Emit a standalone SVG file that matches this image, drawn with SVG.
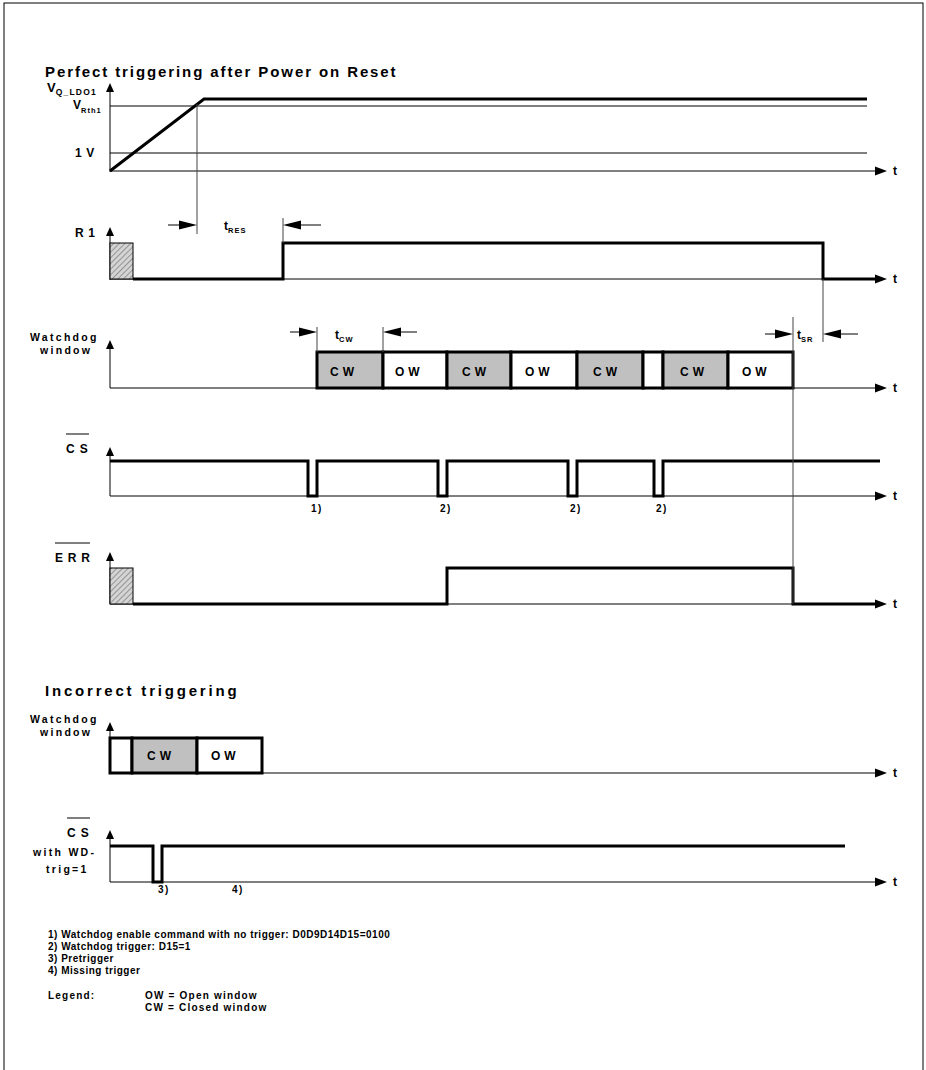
<svg xmlns="http://www.w3.org/2000/svg" width="926" height="1070" viewBox="0 0 926 1070">
<style>
text{font-family:"Liberation Sans",Arial,sans-serif;font-weight:bold;fill:#000}
.title{font-size:15px;letter-spacing:1.9px}
.lbl{font-size:12px;letter-spacing:4.5px}
.wd{font-size:10.5px;letter-spacing:2.3px}
.box{font-size:12px;letter-spacing:4px}
.note{font-size:10px;letter-spacing:0.5px}
.t{font-size:12px}
.sub{font-size:7.5px;letter-spacing:1px}
.num{font-size:10px;letter-spacing:1.5px}
.thin{stroke:#000;stroke-width:1;fill:none}
.thick{stroke:#000;stroke-width:3;fill:none;stroke-linejoin:miter}
.guide{stroke:#444;stroke-width:1;fill:none}
.wbox{stroke:#000;stroke-width:3;fill:#fff}
.gbox{stroke:#000;stroke-width:3;fill:#c0c0c0}
.hatch{stroke:#000;stroke-width:1;fill:url(#hp)}
.head{fill:#000}
</style>
<defs>
<pattern id="hp" patternUnits="userSpaceOnUse" width="4" height="4" patternTransform="rotate(45)">
<rect width="4" height="4" fill="#d4d4d4"/>
<line x1="0" y1="0" x2="0" y2="4" stroke="#555" stroke-width="1"/>
</pattern>
</defs>
<rect x="4" y="3" width="919" height="1080" fill="#fff" stroke="#000" stroke-width="1"/>

<text class="title" x="45" y="77">Perfect triggering after Power on Reset</text>

<g id="vq">
<text x="47" y="92" style="font-size:13px">V<tspan style="font-size:8.5px;letter-spacing:1.2px" dy="3">Q_LDO1</tspan></text>
<text x="73" y="109" style="font-size:12px">V<tspan class="sub" dy="4">Rth1</tspan></text>
<text class="lbl" x="75" y="157">1V</text>
<line class="thin" x1="110" y1="172" x2="110" y2="91"/>
<polygon class="head" points="110,83 106,92 114,92"/>
<line class="thin" x1="110" y1="106" x2="867" y2="106"/>
<line class="thin" x1="110" y1="153" x2="867" y2="153"/>
<line class="thin" x1="110" y1="171" x2="876" y2="171"/>
<polygon class="head" points="887,171 875,166.5 875,175.5"/>
<text class="t" x="893" y="175">t</text>
<path class="thick" d="M110,171 L204,99 H867"/>
</g>

<g id="r1">
<text class="lbl" x="75" y="237">R1</text>
<line class="thin" x1="110" y1="280" x2="110" y2="235"/>
<polygon class="head" points="110,227 106,236 114,236"/>
<line class="thin" x1="110" y1="279" x2="876" y2="279"/>
<rect class="hatch" x="110" y="243" width="23" height="36"/>
<path class="thick" d="M133,279 H283 V243 H823 V279 H876"/>
<polygon class="head" points="887,279 875,274.5 875,283.5"/>
<text class="t" x="893" y="283">t</text>
</g>

<g id="watchdog">
<text class="wd" x="30" y="341">Watchdog</text>
<text class="wd" x="40" y="354">window</text>
<line class="thin" x1="110" y1="388" x2="110" y2="348"/>
<polygon class="head" points="110,340 106,349 114,349"/>
<line class="thin" x1="110" y1="388" x2="876" y2="388"/>
<polygon class="head" points="887,388 875,383.5 875,392.5"/>
<text class="t" x="893" y="392">t</text>
<rect class="gbox" x="317" y="352" width="66" height="36"/>
<rect class="wbox" x="383" y="352" width="64" height="36"/>
<rect class="gbox" x="447" y="352" width="64" height="36"/>
<rect class="wbox" x="511" y="352" width="66" height="36"/>
<rect class="gbox" x="577" y="352" width="66" height="36"/>
<rect class="wbox" x="643" y="352" width="20" height="36"/>
<rect class="gbox" x="663" y="352" width="65" height="36"/>
<rect class="wbox" x="728" y="352" width="65" height="36"/>
<text class="box" x="330" y="376">CW</text>
<text class="box" x="395" y="376">OW</text>
<text class="box" x="462" y="376">CW</text>
<text class="box" x="525" y="376">OW</text>
<text class="box" x="593" y="376">CW</text>
<text class="box" x="680" y="376">CW</text>
<text class="box" x="742" y="376">OW</text>
</g>

<g id="cs">
<line class="thin" x1="66" y1="434" x2="89" y2="434"/>
<text class="lbl" x="66" y="453" style="letter-spacing:5px">CS</text>
<line class="thin" x1="110" y1="496" x2="110" y2="455"/>
<polygon class="head" points="110,447 106,456 114,456"/>
<line class="thin" x1="110" y1="496" x2="876" y2="496"/>
<polygon class="head" points="887,496 875,491.5 875,500.5"/>
<text class="t" x="893" y="500">t</text>
<path class="thick" d="M110,461 H308 V496 H317 V461 H438 V496 H447 V461 H568 V496 H577 V461 H654 V496 H663 V461 H880"/>
<text class="num" x="311" y="512">1)</text>
<text class="num" x="440" y="512">2)</text>
<text class="num" x="570" y="512">2)</text>
<text class="num" x="656" y="512">2)</text>
</g>

<g id="err">
<line class="thin" x1="55" y1="543" x2="90" y2="543"/>
<text class="lbl" x="55" y="562" style="letter-spacing:4.8px">ERR</text>
<line class="thin" x1="110" y1="604" x2="110" y2="560"/>
<polygon class="head" points="110,552 106,561 114,561"/>
<line class="thin" x1="110" y1="604" x2="876" y2="604"/>
<rect class="hatch" x="110" y="568" width="23" height="36"/>
<path class="thick" d="M133,604 H447 V568 H793 V604 H876"/>
<polygon class="head" points="887,604 875,599.5 875,608.5"/>
<text class="t" x="893" y="608">t</text>
</g>

<text class="title" x="45" y="696" style="letter-spacing:2.8px">Incorrect triggering</text>

<g id="watchdog2">
<text class="wd" x="30" y="723">Watchdog</text>
<text class="wd" x="40" y="736">window</text>
<line class="thin" x1="110" y1="773" x2="110" y2="730"/>
<polygon class="head" points="110,722 106,731 114,731"/>
<line class="thin" x1="110" y1="773" x2="876" y2="773"/>
<polygon class="head" points="887,773 875,768.5 875,777.5"/>
<text class="t" x="893" y="777">t</text>
<rect class="wbox" x="110" y="738" width="22" height="35"/>
<rect class="gbox" x="132" y="738" width="65" height="35"/>
<rect class="wbox" x="197" y="738" width="65" height="35"/>
<text class="box" x="147" y="760">CW</text>
<text class="box" x="211" y="760">OW</text>
</g>

<g id="cs2">
<line class="thin" x1="67" y1="818" x2="90" y2="818"/>
<text class="lbl" x="67" y="837" style="letter-spacing:5px">CS</text>
<text class="wd" x="33" y="856">with WD-</text>
<text class="wd" x="46" y="873">trig=1</text>
<line class="thin" x1="110" y1="882" x2="110" y2="838"/>
<polygon class="head" points="110,830 106,839 114,839"/>
<line class="thin" x1="110" y1="882" x2="876" y2="882"/>
<polygon class="head" points="887,882 875,877.5 875,886.5"/>
<text class="t" x="893" y="886">t</text>
<path class="thick" d="M110,846 H153 V882 H162 V846 H845"/>
<text class="num" x="158" y="893">3)</text>
<text class="num" x="232" y="893">4)</text>
</g>

<g id="connectors">
<line class="guide" x1="197" y1="104" x2="197" y2="234"/>
<line class="guide" x1="283" y1="218" x2="283" y2="243"/>
<line class="guide" x1="317" y1="327" x2="317" y2="352"/>
<line class="guide" x1="383" y1="327" x2="383" y2="352"/>
<line class="guide" x1="793" y1="317" x2="793" y2="604"/>
<line class="guide" x1="823" y1="279" x2="823" y2="342"/>
<line class="thin" x1="168" y1="225" x2="180" y2="225"/>
<polygon class="head" points="197,225 179,220.5 179,229.5"/>
<line class="thin" x1="321" y1="225" x2="300" y2="225"/>
<polygon class="head" points="283,225 301,220.5 301,229.5"/>
<text class="t" x="224" y="230">t<tspan class="sub" dy="3">RES</tspan></text>
<line class="thin" x1="290" y1="332" x2="300" y2="332"/>
<polygon class="head" points="317,332 299,327.5 299,336.5"/>
<line class="thin" x1="417" y1="332" x2="400" y2="332"/>
<polygon class="head" points="383,332 401,327.5 401,336.5"/>
<text class="t" x="335" y="339">t<tspan class="sub" dy="3">CW</tspan></text>
<line class="thin" x1="765" y1="334" x2="776" y2="334"/>
<polygon class="head" points="793,334 775,329.5 775,338.5"/>
<line class="thin" x1="858" y1="334" x2="840" y2="334"/>
<polygon class="head" points="823,334 841,329.5 841,338.5"/>
<text class="t" x="797" y="339">t<tspan class="sub" dy="3">SR</tspan></text>
</g>

<g id="notes">
<text class="note" x="48" y="938">1) Watchdog enable command with no trigger: D0D9D14D15=0100</text>
<text class="note" x="48" y="950">2) Watchdog trigger: D15=1</text>
<text class="note" x="48" y="962">3) Pretrigger</text>
<text class="note" x="48" y="974">4) Missing trigger</text>
<text class="note" x="48" y="999" style="letter-spacing:1.2px">Legend:</text>
<text class="note" x="145" y="999" style="letter-spacing:1.2px">OW = Open window</text>
<text class="note" x="145" y="1011" style="letter-spacing:1.2px">CW = Closed window</text>
</g>
</svg>
